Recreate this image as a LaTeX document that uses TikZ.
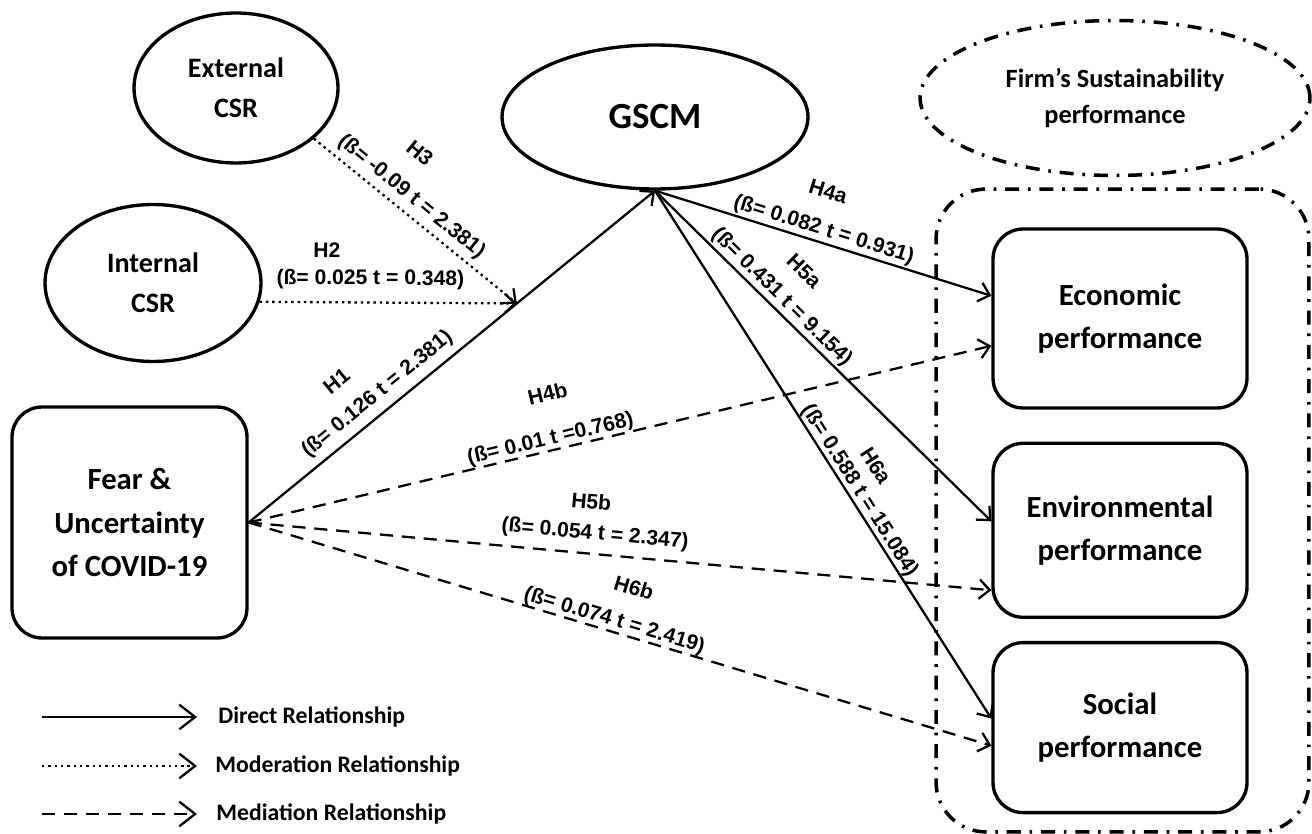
\documentclass[tikz,border=0pt]{standalone}
\usepackage{fontspec}
\setmainfont{Carlito}
\newfontfamily\arialfont{Liberation Sans}
\usetikzlibrary{arrows.meta}
\usetikzlibrary{shapes.geometric}
\usetikzlibrary{positioning}

\tikzset{
  construct/.style={draw, line width=1.9pt, ellipse, inner sep=0pt, align=center,
    font=\bfseries\fontsize{16}{22.7}\selectfont},
  block/.style={draw, line width=1.9pt, rounded corners=0.6cm, align=center, inner sep=0pt,
    minimum width=5.08cm, font=\bfseries\fontsize{17.5}{24.5}\selectfont},
  dashdot/.style={line width=2pt, dash pattern=on 8pt off 5pt on 1.5pt off 5pt},
  direct/.style={line width=1.3pt, -{Straight Barb[length=6pt,width=11pt]}},
  moder/.style={direct, dash pattern=on 1.4pt off 2.2pt},
  medi/.style={direct, dash pattern=on 7.5pt off 5pt},
  legtip/.style={-{Straight Barb[length=9pt,width=14pt]}},
  hyp/.style={font=\arialfont\bfseries\fontsize{12}{14}\selectfont, inner sep=1pt, sloped},
  legtext/.style={anchor=west, inner sep=0pt, font=\bfseries\fontsize{13.5}{16}\selectfont},
}

\begin{document}
\begin{tikzpicture}[x=0.02cm, y=-0.02cm]
\useasboundingbox (0,0) rectangle (1312,834);

% constructs
\node[construct, minimum width=4.08cm, minimum height=3cm] (ext) at (236,88) {External\\CSR};
\node[construct, minimum width=4.32cm, minimum height=3.14cm] (int) at (153,283) {Internal\\CSR};
\node[construct, minimum width=6.12cm, minimum height=2.88cm,
  font=\bfseries\fontsize{21}{25}\selectfont] (gscm) at (655,117) {GSCM};
\node[block, minimum width=4.7cm, minimum height=4.62cm] (fear) at (129.5,522.5) {Fear \&\\Uncertainty\\of COVID-19};

% sustainability performance
\node[construct, dashdot, minimum width=7.8cm, minimum height=3.1cm,
  font=\bfseries\fontsize{15}{21}\selectfont] (firm) at (1115,98) {Firm’s Sustainability\\performance};
\node[draw, dashdot, rounded corners=1cm, minimum width=7.46cm, minimum height=12.86cm] (grp) at (1122.5,510.5) {};
\node[block, minimum height=3.58cm] (econ) at (1120,318.5) {Economic\\performance};
\node[block, minimum height=3.48cm, below=0.64cm of econ] (env) {Environmental\\performance};
\node[block, minimum height=3.4cm, below=0.44cm of env] (soc) {Social\\performance};

% moderation point on H1
\path (fear.east) -- (gscm.south) coordinate[pos=0.66] (mod);

% direct paths
\draw[direct] (fear.east) -- node[hyp, above=25pt, pos=0.30] {H1}
  node[hyp, above=3pt, pos=0.345] {(ß= 0.126 t = 2.381)} (gscm.south);
\draw[direct] (gscm.south) -- node[hyp, above=23pt, pos=0.47] {H4a}
  node[hyp, above=0pt, pos=0.49] {(ß= 0.082 t = 0.931)} (econ.170);
\draw[direct] (gscm.south) -- node[hyp, above=21pt, pos=0.345] {H5a}
  node[hyp, above=0pt, pos=0.35] {(ß= 0.431 t = 9.154)} (env.176);
\draw[direct] (gscm.south) -- node[hyp, above=16pt, pos=0.56] {H6a}
  node[hyp, above=-1pt, pos=0.58] {(ß= 0.588 t = 15.084)} (soc.176);

% moderation paths
\draw[moder] (int.-10) -- node[hyp, above=23.6pt, pos=0.26] {H2}
  node[hyp, above=6pt, pos=0.43] {(ß= 0.025 t = 0.348)} (mod);
\draw[moder] (ext.-33) -- node[hyp, above=25.7pt, pos=0.35] {H3}
  node[hyp, above=2pt, pos=0.43] {(ß= -0.09 t = 2.381)} (mod);

% mediation paths
\draw[medi] (fear.east) -- node[hyp, above=26pt, pos=0.42] {H4b}
  node[hyp, above=-1pt, pos=0.41] {(ß= 0.01 t =0.768)} (econ.192);
\draw[medi] (fear.east) -- node[hyp, above=23.5pt, pos=0.455] {H5b}
  node[hyp, above=4pt, pos=0.464] {(ß= 0.054 t = 2.347)} (env.205);
\draw[medi] (fear.east) -- node[hyp, above=21.5pt, pos=0.50] {H6b}
  node[hyp, above=-1pt, pos=0.488] {(ß= 0.074 t = 2.419)} (soc.188);

% legend
\node[legtext] (dir) at (218,717) {Direct Relationship};
\node[legtext] (mdr) at (215,766) {Moderation Relationship};
\node[legtext] (mdi) at (216,814) {Mediation Relationship};
\coordinate (dir0) at (42,717);
\coordinate (mdr0) at (42,766);
\coordinate (mdi0) at (42,814);
\draw[direct, legtip] (dir0) -- ([xshift=-0.42cm]dir.west);
\draw[moder, legtip] (mdr0) -- ([xshift=-0.36cm]mdr.west);
\draw[medi, legtip] (mdi0) -- ([xshift=-0.38cm]mdi.west);
\end{tikzpicture}
\end{document}
